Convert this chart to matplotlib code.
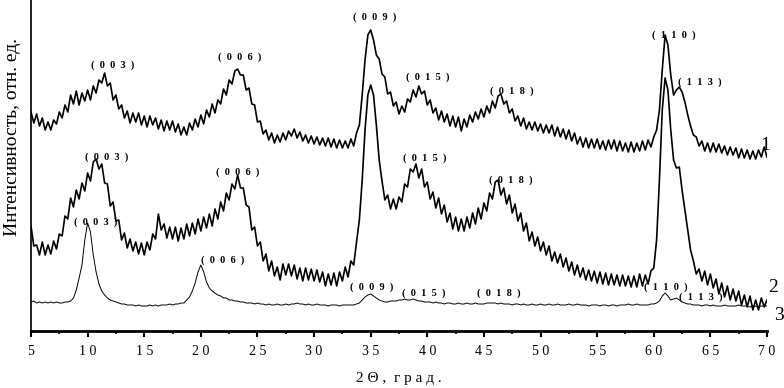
#import libraries
import numpy as np
import matplotlib
matplotlib.use("Agg")
import matplotlib.pyplot as plt
from matplotlib.ticker import MultipleLocator

#2-theta grid the traces were read on (0.25 deg step)
two_theta = np.arange(5.0, 70.0001, 0.25)

#Curve 1 (top)
curve_1 = [
    219, 208, 217, 205, 213, 201, 209, 201, 211, 207, 219, 213,   # 5-7.75
    226, 219, 236, 227, 240, 226, 238, 230, 241, 231, 245, 238,   # 8-10.75
    251, 248, 258, 245, 248, 231, 236, 222, 226, 213, 220, 208,   # 11-13.75
    218, 209, 218, 206, 215, 204, 215, 206, 213, 202, 211, 200,   # 14-16.75
    210, 201, 210, 199, 207, 196, 204, 196, 208, 201, 212, 204,   # 17-19.75
    216, 207, 221, 214, 227, 218, 231, 227, 242, 236, 251, 247,   # 20-22.75
    260, 262, 256, 256, 241, 243, 227, 226, 209, 210, 197, 201,   # 23-25.75
    191, 198, 188, 196, 189, 198, 191, 200, 195, 202, 193, 199,   # 26-28.75
    190, 196, 188, 195, 187, 194, 186, 193, 185, 193, 184, 192,   # 29-31.75
    183, 191, 183, 190, 183, 192, 185, 198, 206, 236, 271, 296,   # 32-34.75
    301, 291, 276, 272, 257, 254, 237, 239, 225, 229, 217, 225,   # 35-37.75
    219, 232, 229, 241, 234, 245, 237, 240, 226, 231, 218, 223,   # 38-40.75
    211, 220, 209, 217, 205, 215, 204, 214, 200, 212, 204, 216,   # 41-43.75
    209, 219, 212, 222, 214, 225, 218, 230, 223, 235, 237, 227,   # 44-46.75
    230, 218, 222, 210, 215, 205, 213, 202, 209, 201, 209, 200,   # 47-49.75
    207, 198, 206, 198, 206, 195, 204, 194, 202, 192, 201, 190,   # 50-52.75
    198, 187, 194, 184, 193, 183, 192, 183, 192, 182, 190, 181,   # 53-55.75
    191, 182, 191, 180, 190, 180, 188, 179, 189, 179, 188, 180,   # 56-58.75
    190, 181, 191, 184, 194, 201, 221, 261, 296, 286, 256, 236,   # 59-61.75
    241, 244, 239, 229, 216, 205, 196, 194, 185, 190, 180, 188,   # 62-64.75
    179, 188, 179, 187, 178, 185, 176, 184, 176, 183, 173, 182,   # 65-67.75
    173, 181, 172, 180, 172, 181, 174, 184, 174,                  # 68-70
]

#Curve 2 (middle)
curve_2 = [
    105, 85, 86, 76, 89, 76, 86, 77, 90, 82, 97, 95,              # 5-7.75
    115, 112, 133, 124, 141, 132, 148, 140, 158, 150, 169, 172,   # 8-10.75
    162, 167, 148, 147, 125, 129, 110, 111, 91, 98, 83, 92,       # 11-13.75
    80, 89, 77, 88, 76, 89, 81, 97, 92, 117, 101, 107,            # 14-16.75
    93, 104, 92, 104, 90, 103, 92, 107, 95, 108, 97, 112,         # 17-19.75
    100, 114, 103, 117, 105, 122, 112, 129, 120, 138, 131, 147,   # 20-22.75
    142, 156, 143, 143, 126, 124, 101, 104, 85, 89, 70, 77,       # 23-25.75
    60, 70, 55, 64, 51, 67, 56, 67, 55, 66, 52, 63,               # 26-28.75
    50, 63, 51, 62, 50, 61, 49, 59, 45, 57, 46, 58,               # 29-31.75
    45, 59, 50, 64, 54, 70, 66, 89, 111, 151, 201, 236,           # 32-34.75
    246, 236, 206, 171, 150, 131, 136, 122, 132, 122, 134, 129,   # 35-37.75
    147, 144, 162, 159, 167, 153, 162, 144, 149, 132, 139, 123,   # 38-40.75
    133, 117, 126, 109, 118, 102, 114, 100, 112, 100, 114, 103,   # 41-43.75
    118, 107, 123, 112, 128, 120, 138, 132, 149, 151, 136, 143,   # 44-46.75
    127, 136, 118, 127, 110, 118, 100, 108, 90, 99, 85, 94,       # 47-49.75
    80, 89, 76, 85, 70, 79, 68, 77, 64, 73, 60, 69,               # 50-52.75
    56, 66, 54, 63, 51, 61, 50, 60, 48, 59, 47, 58,               # 53-55.75
    46, 57, 46, 56, 45, 56, 45, 55, 44, 55, 44, 57,               # 56-58.75
    45, 56, 47, 60, 63, 91, 151, 221, 253, 241, 201, 171,         # 59-61.75
    163, 164, 141, 121, 101, 81, 70, 57, 62, 50, 60, 46,          # 62-64.75
    57, 43, 52, 37, 48, 34, 45, 31, 42, 30, 40, 26,               # 65-67.75
    36, 24, 35, 21, 31, 21, 33, 24, 31,                           # 68-70
]

#Curve 3 (bottom)
curve_3 = [
    29, 30, 28, 29, 28, 29, 28, 29, 28, 29, 28, 28,               # 5-7.75
    29, 29, 30, 33, 41, 53, 66, 91, 108, 99, 76, 59,              # 8-10.75
    47, 40, 36, 33, 31, 30, 29, 28, 27, 27, 26, 26,               # 11-13.75
    26, 25, 26, 25, 25, 25, 26, 25, 26, 25, 26, 26,               # 14-16.75
    26, 27, 26, 27, 27, 28, 28, 31, 34, 40, 48, 59,               # 17-19.75
    66, 59, 49, 43, 40, 38, 36, 35, 33, 33, 31, 31,               # 20-22.75
    30, 30, 29, 29, 28, 28, 28, 27, 28, 27, 27, 26,               # 23-25.75
    27, 26, 26, 27, 26, 26, 27, 26, 27, 27, 28, 27,               # 26-28.75
    27, 26, 27, 26, 26, 27, 26, 26, 26, 25, 26, 26,               # 29-31.75
    26, 25, 26, 26, 26, 26, 26, 27, 28, 31, 34, 36,               # 32-34.75
    37, 35, 33, 31, 30, 29, 29, 30, 30, 30, 31, 31,               # 35-37.75
    32, 31, 31, 32, 31, 30, 30, 29, 29, 29, 28, 29,               # 38-40.75
    28, 28, 27, 28, 28, 27, 27, 28, 27, 27, 28, 27,               # 41-43.75
    27, 28, 27, 27, 27, 28, 28, 28, 28, 27, 28, 27,               # 44-46.75
    27, 27, 26, 27, 27, 26, 27, 26, 26, 27, 26, 26,               # 47-49.75
    27, 26, 26, 27, 26, 26, 27, 26, 26, 26, 27, 26,               # 50-52.75
    26, 27, 26, 26, 26, 25, 26, 26, 26, 25, 26, 26,               # 53-55.75
    25, 26, 26, 25, 26, 26, 26, 27, 26, 26, 27, 26,               # 56-58.75
    26, 26, 26, 27, 27, 28, 30, 35, 38, 35, 31, 32,               # 59-61.75
    33, 31, 29, 28, 27, 27, 26, 26, 26, 25, 26, 26,               # 62-64.75
    25, 26, 25, 25, 25, 26, 25, 25, 25, 25, 26, 25,               # 65-67.75
    25, 25, 24, 25, 25, 24, 25, 25, 25,                           # 68-70
]

#Tick labels (spaced digits, as in the original)
x_ticks = [5, 10, 15, 20, 25, 30, 35, 40, 45, 50, 55, 60, 65, 70]
x_tick_labels = [" ".join(str(t)) for t in x_ticks]

#Peak labels: (hkl, 2theta, intensity) for each curve
peaks_1 = [("003", 12.24, 266), ("006", 23.46, 274), ("009", 35.39, 314),
           ("015", 40.07, 254), ("018", 47.49, 240), ("110", 61.80, 296),
           ("113", 64.10, 249)]
peaks_2 = [("003", 11.71, 174), ("006", 23.29, 159), ("015", 39.81, 173),
           ("018", 47.40, 151)]
peaks_3 = [("003", 10.70, 109), ("006", 21.96, 71), ("009", 35.12, 44),
           ("015", 39.72, 38), ("018", 46.34, 38), ("110", 61.10, 44),
           ("113", 64.19, 34)]

#Curve number labels at the right edge
curve_names = ["1", "2", "3"]
curve_name_pos = [(69.84, 186), (70.55, 44), (71.08, 16)]

plt.rcParams['font.family'] = ['Liberation Serif', 'DejaVu Serif']

fig = plt.figure(figsize=(7.84, 3.88), dpi=100)
ax = fig.add_axes([31 / 784, 57 / 388, 736 / 784, 331 / 388])

ax.plot(two_theta, curve_1, color="black", lw=1.2)
ax.plot(two_theta, curve_2, color="black", lw=1.2)
ax.plot(two_theta, curve_3, color="black", lw=0.7)

#hkl labels
for peaks in (peaks_1, peaks_2, peaks_3):
    for hkl, px, py in peaks:
        ax.text(px, py, "(  " + "  ".join(hkl) + "  )", ha="center", va="center",
                fontsize=7.5, fontweight="bold")

for name, (px, py) in zip(curve_names, curve_name_pos):
    ax.text(px, py, name, ha="center", va="center", fontsize=14, clip_on=False)

ax.set_xlim(5, 70)
ax.set_ylim(0, 331)
ax.set_xticks(x_ticks)
ax.set_xticklabels(x_tick_labels, fontsize=10)
ax.xaxis.set_minor_locator(MultipleLocator(2.5))
ax.set_yticks([])
ax.tick_params(axis="x", which="major", direction="out", length=4, width=1.5, pad=6)
ax.tick_params(axis="x", which="minor", direction="out", length=2, width=1.2)

ax.spines["top"].set_visible(False)
ax.spines["right"].set_visible(False)
ax.spines["bottom"].set_linewidth(2)
ax.spines["left"].set_linewidth(1.2)

ax.set_xlabel("2 Θ ,  г р а д .", fontsize=11, labelpad=10)
ax.set_ylabel("Интенсивность, отн. ед.", fontsize=14)
ax.yaxis.set_label_coords(-0.014, 0.586)

fig.savefig("out.png", dpi=100)
